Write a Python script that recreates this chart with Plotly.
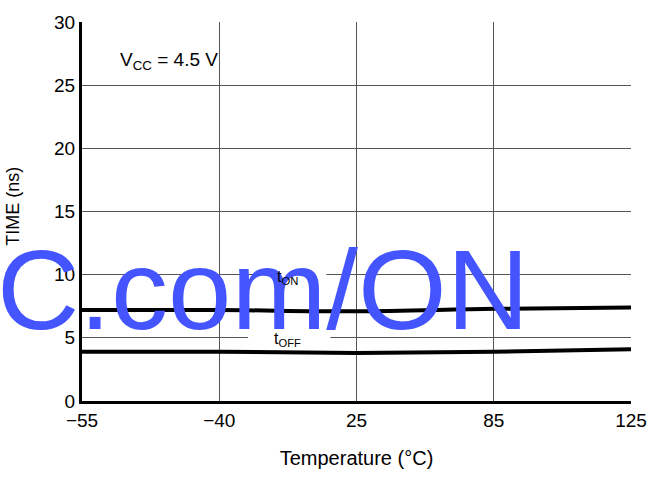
import plotly.graph_objects as go

# Switching time vs temperature, VCC = 4.5 V
temps = ["\u221255", "\u221240", "25", "85", "125"]
t_on = [7.2, 7.2, 7.1, 7.3, 7.4]
t_off = [3.9, 3.9, 3.8, 3.9, 4.1]
y_ticks = [0, 5, 10, 15, 20, 25, 30]

FONT = "Liberation Sans, Arial, Helvetica"

fig = go.Figure()
for name, vals in [("tON", t_on), ("tOFF", t_off)]:
    fig.add_trace(go.Scatter(
        x=temps, y=vals, mode="lines", name=name,
        line=dict(color="black", width=4, shape="spline"),
        showlegend=False,
    ))

fig.update_xaxes(
    type="category", range=[0, 4],
    tickvals=temps, ticktext=temps,
    showgrid=True, gridcolor="#555", gridwidth=1.3,
    showline=True, linecolor="black", linewidth=3,
    ticks="", tickfont=dict(size=19),
    title=dict(text="Temperature (\u00b0C)", font=dict(size=20), standoff=22),
    zeroline=False,
)
fig.update_yaxes(
    range=[0, 30], tickvals=y_ticks,
    showgrid=True, gridcolor="#555", gridwidth=1.3,
    showline=True, linecolor="black", linewidth=3,
    ticks="", tickfont=dict(size=19),
    zeroline=False,
)

# white gaps in the grid behind the curve labels
for x0, x1, y0, y1 in [(1.37, 1.78, 9.6, 10.4), (1.21, 1.81, 4.6, 5.4)]:
    fig.add_shape(type="rect", x0=x0, x1=x1, y0=y0, y1=y1, xref="x", yref="y",
                  fillcolor="white", line_width=0, layer="between")

anns = [
    dict(x=0.066, y=26.9, xref="paper", yref="y", xanchor="left",
         text="V<sub>CC</sub> = 4.5 V", showarrow=False, font=dict(size=19)),
    dict(x=-0.104, y=0.515, xref="paper", yref="paper", xanchor="right",
         text="TIME (ns)", textangle=-90,
         showarrow=False, font=dict(size=18)),
    dict(x=-0.158, y=0.295, xref="paper", yref="paper", xanchor="left", yanchor="middle",
         text="C.com/ON", showarrow=False,
         font=dict(size=114, color="#4455ff")),
    dict(x=1.5, y=9.8, xref="x", yref="y", text="t<sub>ON</sub>", showarrow=False,
         font=dict(size=16)),
    dict(x=1.5, y=4.85, xref="x", yref="y", text="t<sub>OFF</sub>", showarrow=False,
         font=dict(size=16)),
]
fig.update_layout(
    width=662, height=481,
    margin=dict(l=82, r=31, t=16, b=80),
    paper_bgcolor="white", plot_bgcolor="white",
    font=dict(family=FONT, color="black", size=18),
    annotations=anns,
)
fig.write_html("out.html", config={"displayModeBar": False},
               post_script="document.body.style.margin='0';")
